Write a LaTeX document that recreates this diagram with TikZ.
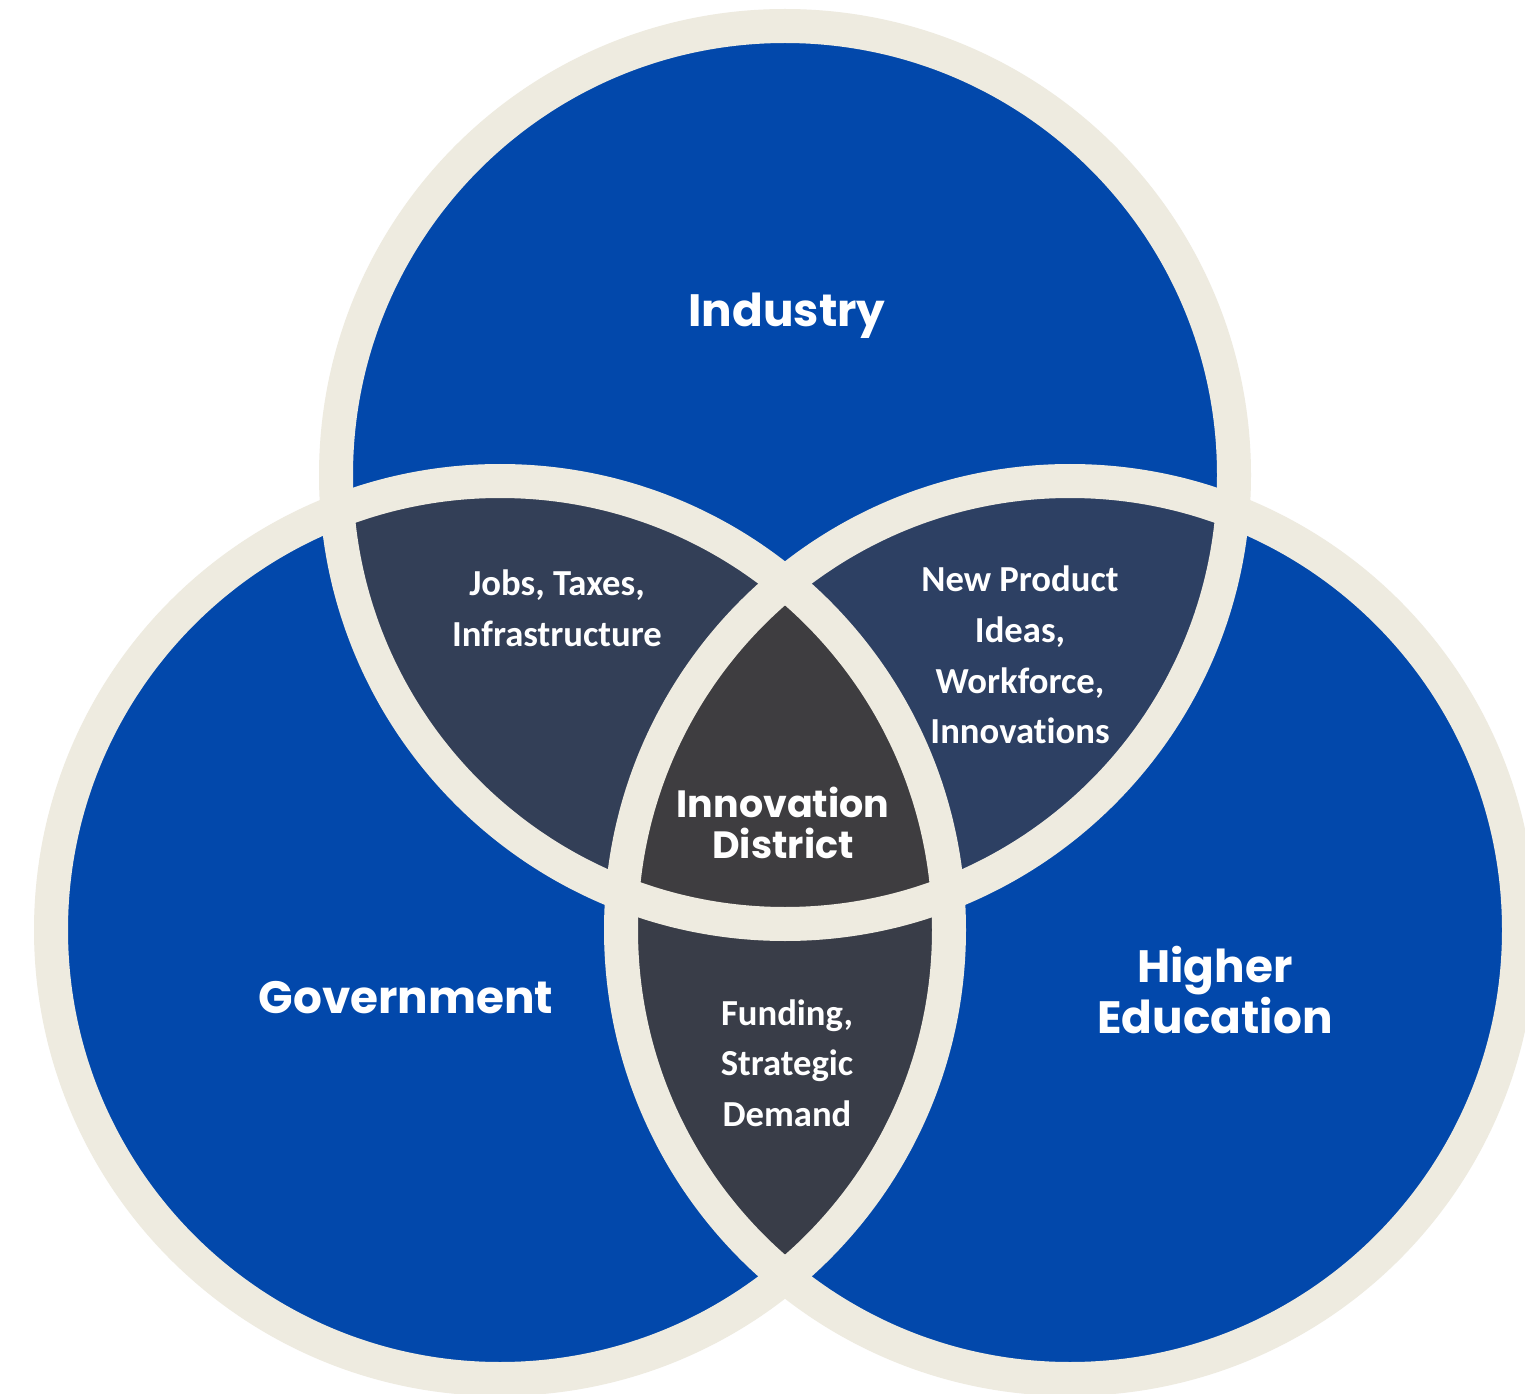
\documentclass[tikz,border=0pt]{standalone}
\usepackage{fontspec}
\newfontfamily\headfont{Poppins}
\newfontfamily\subfont{Carlito}[Ligatures=NoCommon]
\definecolor{vblue}{RGB}{2,72,171}
\definecolor{cream}{RGB}{238,235,224}
\definecolor{igcol}{RGB}{51,63,87}
\definecolor{ihcol}{RGB}{45,64,99}
\definecolor{ghcol}{RGB}{57,61,72}
\definecolor{ctcol}{RGB}{62,61,64}
\tikzset{
  ring/.style={draw=cream, line width=25.5pt},
  head/.style={text=white, font=\headfont\bfseries\fontsize{34}{30}\selectfont, align=center, inner sep=0pt},
  head2/.style={text=white, font=\headfont\bfseries\fontsize{34}{36}\selectfont, align=center, inner sep=0pt},
  headc/.style={text=white, font=\headfont\bfseries\fontsize{28.5}{31}\selectfont, align=center, inner sep=0pt},
  sub/.style={text=white, font=\subfont\bfseries\fontsize{27.5}{38}\selectfont, align=center, inner sep=0pt}
}
\begin{document}
\begin{tikzpicture}[x=0.75pt,y=-0.75pt]
\def\R{336.75pt}
\fill[white] (0,0) rectangle (1525,1394);
\useasboundingbox (0,0) rectangle (1525,1394);
\coordinate (I) at (785,475);
\coordinate (G) at (500,930);
\coordinate (H) at (1070,930);
\foreach \c in {I,G,H} \fill[vblue] (\c) circle[radius=\R];
\begin{scope}
  \clip (I) circle[radius=\R];
  \fill[igcol] (G) circle[radius=\R];
  \fill[ihcol] (H) circle[radius=\R];
\end{scope}
\begin{scope}
  \clip (G) circle[radius=\R];
  \fill[ghcol] (H) circle[radius=\R];
\end{scope}
\begin{scope}
  \clip (I) circle[radius=\R];
  \clip (G) circle[radius=\R];
  \fill[ctcol] (H) circle[radius=\R];
\end{scope}
\foreach \c in {I,G,H} \draw[ring] (\c) circle[radius=\R];
\node[head, anchor=base] (industry) at (787,327) {Industry};
\node[head, anchor=base] (government) at (406,1013) {Government};
\node[head2] (higher) at (1215,990) {Higher\\Education};
\node[headc] (district) at (783,823) {Innovation\\District};
\node[sub] (jobs) at (557,608) {Jobs, Taxes,\\Infrastructure};
\node[sub] (product) at (1020,655) {New Product\\Ideas,\\Workforce,\\Innovations};
\node[sub] (funding) at (787,1063) {Funding,\\Strategic\\Demand};
\end{tikzpicture}
\end{document}
